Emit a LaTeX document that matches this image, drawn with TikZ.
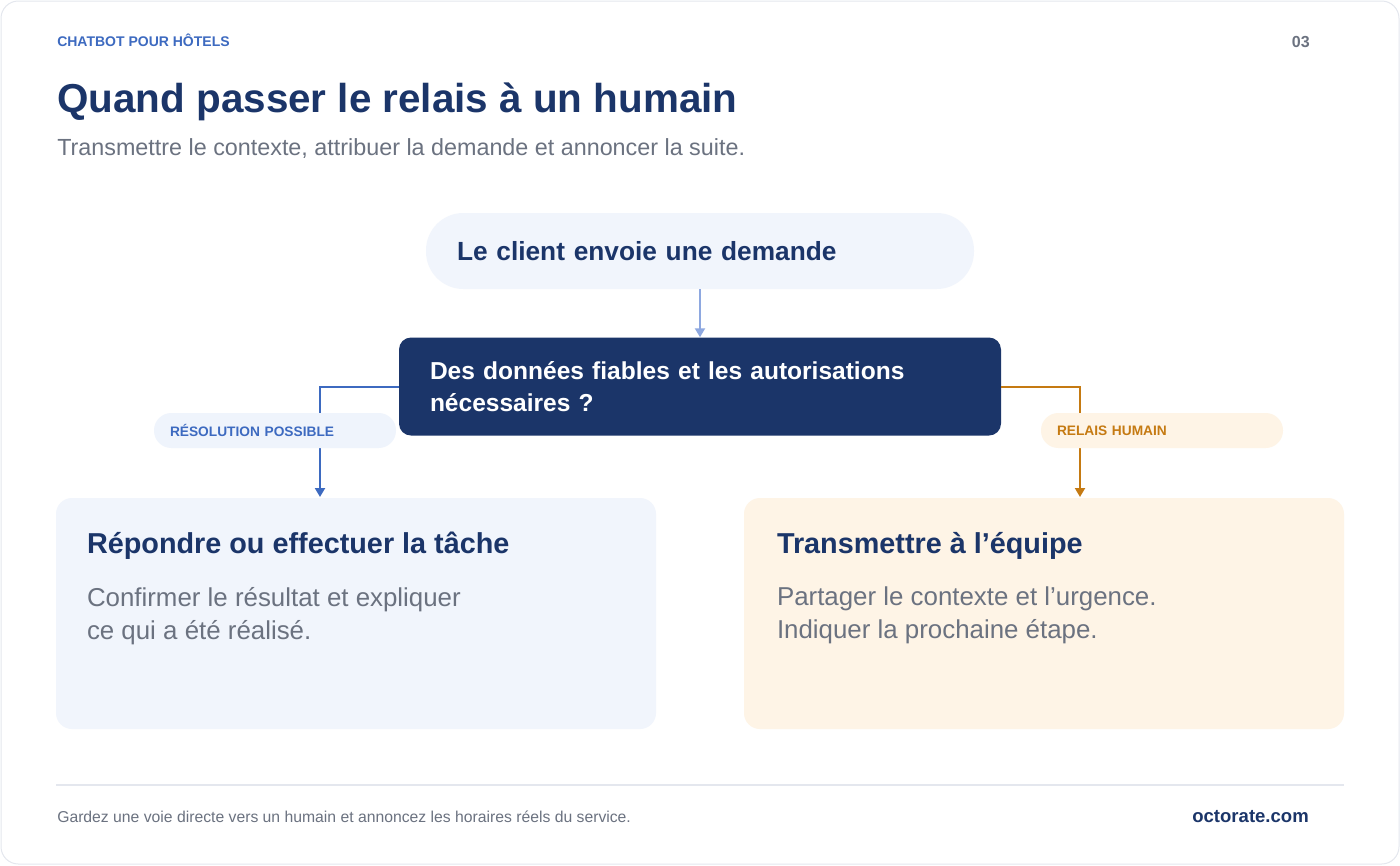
\documentclass[tikz,border=0pt]{standalone}
\usepackage{fontspec}
\setmainfont{Liberation Sans}
\usetikzlibrary{positioning,arrows.meta}

\definecolor{navy}{HTML}{1B3569}
\definecolor{accent}{HTML}{3D6AC0}
\definecolor{soft}{HTML}{8EA8E0}
\definecolor{amber}{HTML}{C57A12}
\definecolor{bluefill}{HTML}{F1F5FC}
\definecolor{accentfill}{HTML}{EFF4FC}
\definecolor{amberfill}{HTML}{FEF4E6}
\definecolor{muted}{HTML}{6B7280}
\definecolor{hairline}{HTML}{E4E7EE}

\begin{document}
\begin{tikzpicture}[
		x=0.75pt, y=-0.75pt,
		request/.style={rectangle, fill=bluefill, rounded corners=28pt, minimum width=411pt, minimum height=57pt, inner xsep=23.25pt, text width=364.5pt, align=left, text=navy, font=\fontsize{19.7}{24}\selectfont\bfseries},
		decision/.style={rectangle, fill=navy, rounded corners=9pt, minimum width=451.5pt, minimum height=73.5pt, inner xsep=23.25pt, text width=405pt, align=left, text=white, font=\fontsize{18.4}{24}\selectfont\bfseries},
		tag/.style={rectangle, fill=#1fill, rounded corners=13pt, minimum width=181.5pt, minimum height=26.25pt, inner xsep=12pt, text width=157.5pt, align=left, text=#1, font=\fontsize{10.3}{12}\selectfont\bfseries},
		card/.style={rectangle, fill=#1, rounded corners=12pt, minimum width=450pt, minimum height=173.25pt},
		cardtitle/.style={anchor=base west, inner sep=0pt, text=navy, font=\fontsize{21.6}{26}\selectfont\bfseries},
		cardbody/.style={anchor=north west, inner sep=0pt, align=left, text=muted, font=\fontsize{19.4}{24.75}\selectfont},
		branch/.style={-{Triangle[length=6.75pt, width=7.5pt]}, line width=1.5pt, draw=#1},
		]
		\useasboundingbox (0,0) rectangle (1400,865);
		\draw[hairline, line width=0.75pt, fill=white, rounded corners=13pt] (1,1) rectangle (1399,864);

		%==================== Header ====================%
		\node[anchor=base west, inner sep=0pt, text=accent, font=\fontsize{10.5}{12}\selectfont\bfseries] (kicker) at (57,46) {CHATBOT POUR HÔTELS};
		\node[anchor=base east, inner sep=0pt, text=muted, font=\fontsize{12}{14}\selectfont\bfseries] (pagenum) at (1310,47) {03};
		\node[anchor=base west, inner sep=0pt, text=navy, font=\fontsize{30.3}{36}\selectfont\bfseries] (title) at (57,112) {Quand passer le relais à un humain};
		\node[anchor=base west, inner sep=0pt, text=muted, font=\fontsize{17.5}{21}\selectfont] (subtitle) at (57,155) {Transmettre le contexte, attribuer la demande et annoncer la suite.};

		%==================== Nodes ====================%
		\node[request] (ask) at (700,251) {Le client envoie une demande};
		\node[decision, below=36pt of ask] (check) {Des données fiables et les autorisations\\nécessaires ?};

		\node[card=bluefill] (solve) at (356,613.5) {};
		\node[card=amberfill] (handoff) at (1044,613.5) {};

		\node[cardtitle] (solvetitle) at ([shift={(31,56)}]solve.north west) {Répondre ou effectuer la tâche};
		\node[cardbody] (solvetext) at ([shift={(31,89)}]solve.north west) {Confirmer le résultat et expliquer\\ce qui a été réalisé.};
		\node[cardtitle] (handofftitle) at ([shift={(33,56)}]handoff.north west) {Transmettre à l’équipe};
		\node[cardbody] (handofftext) at ([shift={(33,89)}]handoff.north west) {Partager le contexte et l’urgence.\\Indiquer la prochaine étape.};

		\coordinate (solvein) at (320,497);
		\coordinate (handoffin) at (1080,497);

		%==================== Arrows ====================%
		\draw[branch=soft] (ask) -- (check);
		\draw[branch=accent] (check.west) -| (solvein);
		\draw[branch=amber] (check.east) -| (handoffin);

		% labels sit on top of the branches
		\node[tag=accent] (yes) at (275,430.5) {RÉSOLUTION POSSIBLE};
		\node[tag=amber] (no) at (1162,430.5) {RELAIS HUMAIN};

		%==================== Footer ====================%
		\draw[hairline, line width=1.5pt] (56,785) -- (1344,785);
		\node[anchor=base west, inner sep=0pt, text=muted, font=\fontsize{11.8}{14}\selectfont] (note) at (57,822) {Gardez une voie directe vers un humain et annoncez les horaires réels du service.};
		\node[anchor=base east, inner sep=0pt, text=navy, font=\fontsize{13.9}{16}\selectfont\bfseries] (site) at (1309,822) {octorate.com};

	\end{tikzpicture}
\end{document}
